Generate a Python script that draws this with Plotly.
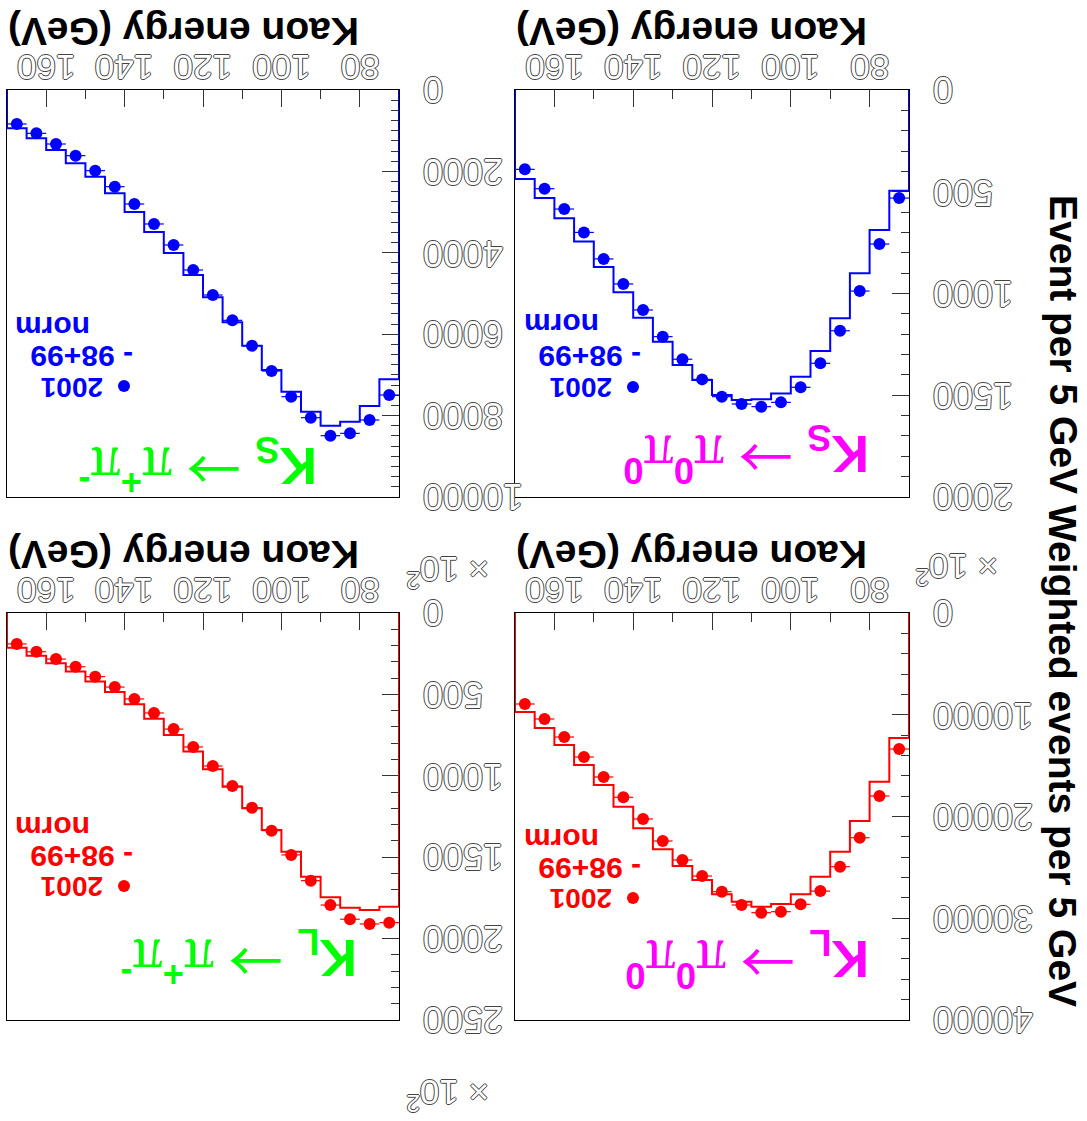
import plotly.graph_objects as go

W, H = 1087, 1121

# ---------------- data ----------------
energy_bins = [72.5, 77.5, 82.5, 87.5, 92.5, 97.5, 102.5, 107.5, 112.5, 117.5,
               122.5, 127.5, 132.5, 137.5, 142.5, 147.5, 152.5, 157.5, 162.5, 167.5]

ks_pipi_2001 = [7494, 8108, 8436, 8493, 8051, 7535, 6904, 6282, 5659, 5037,
                4423, 3808, 3292, 2801, 2375, 1982, 1613, 1327, 1065, 835]
ks_pipi_mc = [7109, 7764, 8149, 8248, 7903, 7412, 6880, 6282, 5708, 5094,
              4545, 4005, 3489, 2998, 2539, 2129, 1802, 1474, 1188, 942]

ks_pi0pi0_2001 = [531, 757, 988, 1183, 1343, 1461, 1535, 1556, 1543, 1507,
                  1422, 1323, 1212, 1081, 953, 830, 700, 585, 485, 390]
ks_pi0pi0_mc = [495, 688, 900, 1122, 1283, 1409, 1491, 1520, 1523, 1499,
                1425, 1351, 1237, 1119, 994, 870, 745, 630, 531, 437]

kl_pipi_2001 = [1902, 1910, 1881, 1794, 1644, 1486, 1337, 1196, 1063, 940,
                823, 713, 614, 528, 455, 391, 330, 283, 238, 190]
kl_pipi_mc = [1804, 1824, 1810, 1746, 1620, 1466, 1333, 1200, 1067, 960,
              850, 750, 650, 560, 485, 420, 360, 309, 262, 213]

kl_pi0pi0_2001 = [13366, 17985, 22085, 24933, 27332, 28629, 29354, 29455, 28698, 27390,
                  25848, 24275, 22408, 20246, 18113, 16118, 14152, 12187, 10418, 8943]
kl_pi0pi0_mc = [12285, 16580, 20442, 23459, 25916, 27647, 28600, 28862, 28370, 27647,
                26241, 24865, 23226, 21159, 19036, 16904, 14939, 12973, 11302, 9730]

bin_half_width = 2.5
x_ticks = [80, 100, 120, 140, 160]
y_ticks_ks_pipi = [0, 2000, 4000, 6000, 8000, 10000]
y_ticks_ks_pi0pi0 = [0, 500, 1000, 1500, 2000]
y_ticks_kl_pipi = [0, 500, 1000, 1500, 2000, 2500]
y_ticks_kl_pi0pi0 = [0, 10000, 20000, 30000, 40000]

x_title = "Kaon energy (GeV)"
legend_data = "2001"
legend_mc = "- 98+99"
legend_norm = "norm"

BLUE = "#0000ff"
RED = "#ff0000"
GREEN = "#00ff00"
MAGENTA = "#ff00ff"


def px(x):
    return x / W


def py(y):
    return 1 - y / H


# panel: (index, x-pixel span, y-pixel span, data, mc, colour, ymax, ymajor, yminor, yticks)
panels = [
    (1, (7, 399), (90, 497), ks_pipi_2001, ks_pipi_mc, BLUE, 10000, 2000, 250, y_ticks_ks_pipi),
    (2, (515, 909), (90, 497), ks_pi0pi0_2001, ks_pi0pi0_mc, BLUE, 2000, 500, 100, y_ticks_ks_pi0pi0),
    (3, (7, 399), (613, 1020), kl_pipi_2001, kl_pipi_mc, RED, 2500, 500, 100, y_ticks_kl_pipi),
    (4, (515, 909), (613, 1020), kl_pi0pi0_2001, kl_pi0pi0_mc, RED, 40000, 10000, 2000, y_ticks_kl_pi0pi0),
]

fig = go.Figure()
annotations = []
shapes = []

TICK_FONT = dict(family="Liberation Sans", size=35, color="white",
                 shadow="1px 0 0 #444, -1px 0 0 #444, 0 1px 0 #444, 0 -1px 0 #444")

for idx, (xl, xr), (yt, yb), data, mc, col, ymax, ymaj, ymin, yticks in panels:
    sfx = "" if idx == 1 else str(idx)
    xa, ya = "x" + sfx, "y" + sfx
    # step histogram (closed to zero at both ends)
    edges_lo = [c - bin_half_width for c in energy_bins]
    hx = [edges_lo[0]] + edges_lo + [energy_bins[-1] + bin_half_width]
    hy = [0] + list(mc) + [0]
    fig.add_trace(go.Scatter(x=hx, y=hy, mode="lines", line=dict(color=col, width=2, shape="hv"),
                             xaxis=xa, yaxis=ya, showlegend=False, hoverinfo="skip"))
    fig.add_trace(go.Scatter(x=energy_bins, y=data, mode="markers",
                             marker=dict(color=col, size=12),
                             error_x=dict(type="constant", value=bin_half_width, color=col,
                                          thickness=1.2, width=0),
                             xaxis=xa, yaxis=ya, showlegend=False, cliponaxis=False))
    fig.layout["xaxis" + sfx] = dict(
        domain=[px(xl), px(xr)], range=[170, 70], side="top", anchor=ya,
        showline=True, mirror=True, linecolor="black", linewidth=1,
        ticks="inside", tick0=0, dtick=20, ticklen=17, tickcolor="#333", tickwidth=1,
        minor=dict(ticks="inside", dtick=10, ticklen=9, tickcolor="#333", tickwidth=1),
        showticklabels=False, showgrid=False, zeroline=False, layer="below traces")
    fig.layout["yaxis" + sfx] = dict(
        domain=[py(yb), py(yt)], range=[ymax, 0], side="right", anchor=xa,
        showline=True, mirror=True, linecolor="black", linewidth=1,
        ticks="inside", tick0=0, dtick=ymaj, ticklen=17, tickcolor="#333", tickwidth=1,
        minor=dict(ticks="inside", dtick=ymin, ticklen=8, tickcolor="#333", tickwidth=1),
        showticklabels=False, showgrid=False, zeroline=False, layer="below traces")

    # x tick labels (rotated, above the frame)
    for t in x_ticks:
        annotations.append(dict(text=str(t), x=t, xref=xa, y=1, yref=ya + " domain",
                                yshift=22, xanchor="center", yanchor="middle", showarrow=False,
                                textangle=180, font=TICK_FONT, borderpad=0))
    # y tick labels (rotated, right of the frame)
    for t in yticks:
        annotations.append(dict(text=str(t), x=1, xref=xa + " domain", xshift=23, y=t, yref=ya,
                                xanchor="left", yanchor="middle", showarrow=False,
                                textangle=180, font=dict(TICK_FONT, size=36), borderpad=0))
    # x title
    annotations.append(dict(text="<b>" + x_title + "</b>", x=px(xl), xref="paper",
                            y=py(yt - 58), yref="paper", xanchor="left", yanchor="middle",
                            showarrow=False, textangle=180, borderpad=0,
                            font=dict(family="Liberation Sans", size=39, color="black")))

# legends
legend_pos = [  # dot(x,y), 2001 (right,y), mc (right,y), norm (right,y), colour
    ((124, 386), (104, 387), (134, 357), (91, 328), BLUE),
    ((633, 387), (613, 388), (642, 357), (600, 325), BLUE),
    ((124, 886), (104, 887), (134, 857), (91, 828), RED),
    ((633, 898), (613, 899), (642, 869), (600, 840), RED),
]
for (dx, dy), (ax1, ay1), (ax2, ay2), (ax3, ay3), col in legend_pos:
    shapes.append(dict(type="circle", xref="paper", yref="paper",
                       x0=px(dx - 6), x1=px(dx + 6), y0=py(dy + 6), y1=py(dy - 6),
                       fillcolor=col, line=dict(width=0)))
    for txt, sz, ax_, ay_ in ((legend_data, 28, ax1, ay1), (legend_mc, 30, ax2, ay2),
                              (legend_norm, 30, ax3, ay3)):
        annotations.append(dict(text="<b>" + txt + "</b>", x=px(ax_), y=py(ay_), xref="paper",
                                yref="paper", xanchor="right", yanchor="middle", showarrow=False,
                                textangle=180, borderpad=0,
                                font=dict(family="Liberation Sans", size=sz, color=col)))

# decay labels
ARROW = "<span style='font-family:Noto Sans CJK JP;font-weight:normal;font-size:54px'>\u2192</span>"
PI = "<span style='font-family:Liberation Serif;font-weight:normal;font-size:60px'>\u03c0</span>"
decays = [
    ("K", "S", "+", "-", GREEN, (318, 470)),
    ("K", "S", "0", "0", MAGENTA, (870, 458)),
    ("K", "L", "+", "-", GREEN, (358, 962)),
    ("K", "L", "0", "0", MAGENTA, (870, 963)),
]
for k, s, c1, c2, col, (cx, cy) in decays:
    txt = ("<b>" + k + "<sub>" + s + "</sub></b> " + ARROW + " " + PI + "<sup><b>" + c1 + "</b></sup>"
           + PI + "<sup><b>" + c2 + "</b></sup>")
    annotations.append(dict(text=txt, x=px(cx), y=py(cy), xref="paper", yref="paper",
                            xanchor="right", yanchor="middle", showarrow=False, textangle=180,
                            borderpad=0, font=dict(family="Liberation Sans", size=52, color=col)))

# x10^2 multipliers
for cx, cy in ((957, 569), (448, 572), (448, 1095)):
    annotations.append(dict(text="\u00d7 10<sup>2</sup>", x=px(cx), y=py(cy), xref="paper",
                            yref="paper", xanchor="center", yanchor="middle", showarrow=False,
                            textangle=180, borderpad=0, font=TICK_FONT))

# y titles
for txt, cy in (("Event per 5 GeV", 344), ("Weighted events per 5 GeV", 756)):
    annotations.append(dict(text="<b>" + txt + "</b>", x=px(1063), y=py(cy), xref="paper",
                            yref="paper", xanchor="center", yanchor="middle", showarrow=False,
                            textangle=90, borderpad=0,
                            font=dict(family="Liberation Sans", size=39, color="black")))

fig.update_layout(width=W, height=H, margin=dict(l=0, r=0, t=0, b=0),
                  paper_bgcolor="white", plot_bgcolor="white",
                  annotations=annotations, shapes=shapes, showlegend=False)

fig.write_html("out.html")
